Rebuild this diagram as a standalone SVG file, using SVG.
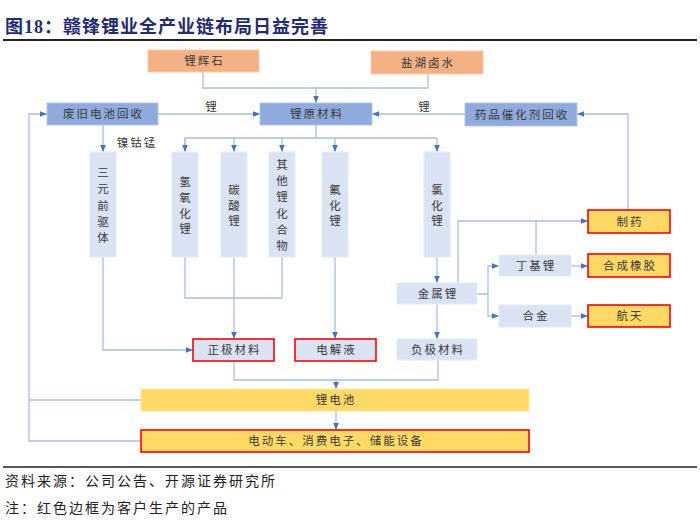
<svg xmlns="http://www.w3.org/2000/svg" width="700" height="521" viewBox="0 0 700 521">
<style>
.t{font-family:"Noto Sans CJK SC","Noto Sans",sans-serif;font-size:11.5px;fill:#3a3a3a;letter-spacing:2px;text-anchor:middle}
.v{font-family:"Noto Sans CJK SC","Noto Sans",sans-serif;font-size:11.5px;fill:#3a3a3a;text-anchor:middle}
.org{fill:#F4B183;stroke:#F8CBAD;stroke-width:1}
.dk{fill:#8FAADC;stroke:#B4C7E7;stroke-width:1}
.lt{fill:#DAE3F3;stroke:#E4EBF7;stroke-width:1}
.ltr{fill:#DAE3F3;stroke:#FF0000;stroke-width:1.6}
.gd{fill:#FFD966;stroke:#FFE699;stroke-width:1}
.gdr{fill:#FFD966;stroke:#FF0000;stroke-width:1.6}
.c path{fill:none;stroke:#A9BEE4;stroke-width:1.3}
.c path.a{marker-end:url(#ah)}
.ft{font-family:"Noto Sans CJK SC","Noto Sans",sans-serif;font-size:14px;fill:#222;letter-spacing:2px}
</style>
<defs>
<marker id="ah" viewBox="0 0 10 10" refX="10" refY="5" markerWidth="7" markerHeight="7" markerUnits="userSpaceOnUse" orient="auto"><path d="M0,1 L10,5 L0,9 z" fill="#4472C4"/></marker>
</defs>
<rect width="700" height="521" fill="#ffffff"/>
<g id="title">
<text x="5" y="33" font-family="Noto Sans CJK SC, sans-serif" font-size="18" font-weight="bold" fill="#1F2A7A" letter-spacing="1">图<tspan font-family="Liberation Serif, serif">18</tspan>：赣锋锂业全产业链布局日益完善</text>
<line x1="3" y1="40" x2="697" y2="40" stroke="#222" stroke-width="2"/>
</g>
<g class="c" id="connectors">
<path class="a" d="M203,72 V88 H316 V103"/>
<path d="M428,74 V88 H316"/>
<path class="a" d="M158,114 H260"/>
<path class="a" d="M465,114 H372"/>
<path class="a" d="M628,210 V114 H577"/>
<path d="M316,125 V138 M185,152 V138 H437"/>
<path class="a" d="M185,138 V152"/>
<path class="a" d="M234,138 V152"/>
<path class="a" d="M282,138 V152"/>
<path class="a" d="M335,138 V152"/>
<path class="a" d="M437,138 V152"/>
<path class="a" d="M103,125 V152"/>
<path class="a" d="M103,257 V350 H193"/>
<path d="M185,257 V298 H282 V257"/>
<path class="a" d="M234,257 V339"/>
<path class="a" d="M335,257 V339"/>
<path class="a" d="M437,257 V283"/>
<path class="a" d="M437,304 V339"/>
<path class="a" d="M477,294 H488 V266 H499"/>
<path class="a" d="M488,294 V316 H499"/>
<path class="a" d="M571,266 H588"/>
<path class="a" d="M571,316 H588"/>
<path class="a" d="M458,283 V221 H588"/>
<path d="M536,255 V221"/>
<path d="M234,361 V380 H438 V360"/>
<path class="a" d="M336,380 V389"/>
<path class="a" d="M336,411 V430"/>
<path d="M141,400 H29"/>
<path class="a" d="M141,441 H29 V114 H47"/>
<text class="t" x="212" y="111">锂</text>
<text class="t" x="425" y="111">锂</text>
<text class="t" x="137" y="147">镍钴锰</text>
</g>
<g id="n-lihuishi"><rect class="org" x="148" y="50" width="111" height="22"/><text class="t" x="204.5" y="65">锂辉石</text></g>
<g id="n-yanhu"><rect class="org" x="371" y="51" width="112" height="23"/><text class="t" x="428" y="66.5">盐湖卤水</text></g>
<g id="n-feijiu"><rect class="dk" x="47" y="103" width="111" height="22"/><text class="t" x="103.5" y="118">废旧电池回收</text></g>
<g id="n-yuancailiao"><rect class="dk" x="260" y="103" width="112" height="22"/><text class="t" x="317" y="118">锂原材料</text></g>
<g id="n-yaopin"><rect class="dk" x="465" y="103" width="112" height="23"/><text class="t" x="522" y="118.5">药品催化剂回收</text></g>
<g id="n-sanyuan"><rect class="lt" x="90" y="152" width="26" height="105"/>
<text class="v" x="103" y="177"><tspan x="103">三</tspan><tspan x="103" dy="16.3">元</tspan><tspan x="103" dy="16.3">前</tspan><tspan x="103" dy="16.3">驱</tspan><tspan x="103" dy="16.3">体</tspan></text></g>
<g id="n-qingyanghua"><rect class="lt" x="172" y="152" width="26" height="105"/>
<text class="v" x="185" y="186"><tspan x="185">氢</tspan><tspan x="185" dy="15.8">氧</tspan><tspan x="185" dy="15.8">化</tspan><tspan x="185" dy="15.8">锂</tspan></text></g>
<g id="n-tansuan"><rect class="lt" x="221" y="152" width="26" height="105"/>
<text class="v" x="234" y="194"><tspan x="234">碳</tspan><tspan x="234" dy="15.6">酸</tspan><tspan x="234" dy="15.6">锂</tspan></text></g>
<g id="n-qita"><rect class="lt" x="269" y="152" width="26" height="105"/>
<text class="v" x="282" y="169"><tspan x="282">其</tspan><tspan x="282" dy="16.2">他</tspan><tspan x="282" dy="16.2">锂</tspan><tspan x="282" dy="16.2">化</tspan><tspan x="282" dy="16.2">合</tspan><tspan x="282" dy="16.2">物</tspan></text></g>
<g id="n-fuhua"><rect class="lt" x="322" y="152" width="26" height="105"/>
<text class="v" x="335" y="194"><tspan x="335">氟</tspan><tspan x="335" dy="15.6">化</tspan><tspan x="335" dy="15.6">锂</tspan></text></g>
<g id="n-lvhua"><rect class="lt" x="424" y="152" width="26" height="105"/>
<text class="v" x="437" y="194"><tspan x="437">氯</tspan><tspan x="437" dy="15.6">化</tspan><tspan x="437" dy="15.6">锂</tspan></text></g>
<g id="n-jinshu"><rect class="lt" x="397" y="283" width="80" height="21"/><text class="t" x="438" y="297.5">金属锂</text></g>
<g id="n-dingji"><rect class="lt" x="499" y="255" width="72" height="21"/><text class="t" x="536" y="269.5">丁基锂</text></g>
<g id="n-hejin"><rect class="lt" x="499" y="305" width="72" height="22"/><text class="t" x="536" y="320">合金</text></g>
<g id="n-zhiyao"><rect class="gdr" x="588" y="210" width="82" height="23"/><text class="t" x="630" y="225.5">制药</text></g>
<g id="n-xiangjiao"><rect class="gdr" x="588" y="254" width="82" height="23"/><text class="t" x="630" y="269.5">合成橡胶</text></g>
<g id="n-hangtian"><rect class="gdr" x="588" y="305" width="82" height="22"/><text class="t" x="630" y="320">航天</text></g>
<g id="n-zhengji"><rect class="ltr" x="193" y="339" width="81" height="22"/><text class="t" x="234.5" y="354">正极材料</text></g>
<g id="n-dianjieye"><rect class="ltr" x="295" y="339" width="81" height="22"/><text class="t" x="336.5" y="354">电解液</text></g>
<g id="n-fuji"><rect class="lt" x="397" y="339" width="80" height="21"/><text class="t" x="438" y="353.5">负极材料</text></g>
<g id="n-dianchi"><rect class="gd" x="141" y="389" width="388" height="22"/><text class="t" x="336" y="404">锂电池</text></g>
<g id="n-yingyong"><rect class="gdr" x="141" y="430" width="388" height="22"/><text class="t" x="336" y="445">电动车、消费电子、储能设备</text></g>
<g id="footer">
<line x1="3" y1="467" x2="697" y2="467" stroke="#222" stroke-width="1.5"/>
<text class="ft" x="5" y="486">资料来源：公司公告、开源证券研究所</text>
<text class="ft" x="5" y="513">注：红色边框为客户生产的产品</text>
</g>
</svg>
